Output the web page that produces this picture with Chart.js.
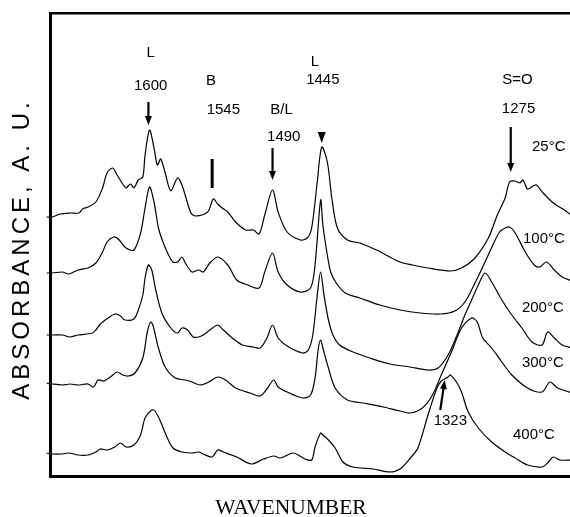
<!DOCTYPE html>
<html>
<head>
    <meta charset="utf-8">
    <script src="https://cdn.jsdelivr.net/npm/chart.js"></script>
    <style>
        body { margin: 0; background: #fff; }
    </style>
</head>
<body>
    <canvas id="myChart" width="570" height="517"></canvas>
    <script>
        // 온도별 IR 스펙트럼 (파수 cm-1, 흡광도 a.u. - 오프셋 포함)
        const temps = ['25°C', '100°C', '200°C', '300°C', '400°C'];

        const wn25 = [1691,1686,1679,1670,1662,1659,1654,1647,1641,1637,1632,1628,1623,1620,1616,1613,1609,1605,1603,1599,1595,1592,1589,1585,1580,1574,1570,1562,1558,1547,1542,1538,1534,1529,1522,1513,1506,1501,1496,1489,1484,1476,1464,1458,1454,1449,1445,1440,1436,1431,1422,1411,1396,1375,1364,1350,1330,1320,1308,1296,1288,1281,1277,1272,1268,1265,1261,1256,1253,1247,1239,1234,1228,1221];
        const ab25 = [2.59,2.59,2.62,2.63,2.63,2.67,2.69,2.74,2.88,3.03,3.08,3.01,2.92,2.88,2.92,2.88,2.96,2.99,3.21,3.46,3.28,3.11,3.17,3.03,2.85,2.98,2.91,2.63,2.60,2.64,2.77,2.72,2.68,2.64,2.54,2.46,2.46,2.42,2.61,2.86,2.64,2.44,2.36,2.38,2.48,2.94,3.29,3.14,2.78,2.48,2.36,2.33,2.26,2.14,2.11,2.08,2.05,2.08,2.18,2.38,2.61,2.78,2.94,2.95,2.93,2.96,2.87,2.90,2.91,2.83,2.74,2.70,2.66,2.60];

        const wn100 = [1691,1686,1677,1671,1663,1654,1647,1641,1637,1631,1627,1620,1613,1607,1603,1599,1595,1591,1587,1582,1578,1574,1570,1567,1561,1555,1551,1545,1538,1529,1521,1511,1501,1496,1489,1484,1476,1464,1455,1451,1446,1444,1440,1437,1432,1424,1411,1393,1375,1357,1339,1326,1317,1308,1299,1292,1286,1281,1277,1272,1263,1255,1250,1244,1237,1230,1221];
        const ab100 = [2.03,2.03,2.04,2.02,2.06,2.08,2.13,2.24,2.34,2.39,2.37,2.28,2.26,2.43,2.68,2.89,2.74,2.48,2.34,2.21,2.14,2.14,2.19,2.13,2.04,2.06,2.04,2.13,2.19,2.11,1.96,1.91,1.88,2.04,2.23,2.04,1.91,1.84,1.88,2.11,2.76,2.51,2.21,2.04,1.93,1.83,1.78,1.71,1.66,1.63,1.62,1.65,1.74,1.93,2.14,2.31,2.44,2.48,2.49,2.43,2.24,2.11,2.09,2.14,2.06,1.99,1.95];

        const wn200 = [1691,1686,1677,1670,1663,1650,1647,1643,1636,1630,1625,1621,1613,1609,1605,1603,1600,1597,1594,1588,1580,1574,1570,1565,1560,1555,1551,1545,1538,1533,1525,1516,1506,1500,1494,1489,1484,1476,1462,1457,1453,1449,1446,1443,1439,1435,1429,1417,1402,1384,1366,1350,1341,1332,1324,1317,1311,1305,1299,1293,1284,1275,1266,1257,1248,1243,1237,1230,1221];
        const ab200 = [1.41,1.41,1.41,1.39,1.41,1.43,1.46,1.52,1.58,1.62,1.60,1.56,1.57,1.66,1.81,1.98,2.11,2.06,1.89,1.63,1.48,1.43,1.48,1.46,1.39,1.39,1.41,1.46,1.51,1.46,1.38,1.31,1.29,1.28,1.38,1.51,1.38,1.30,1.23,1.26,1.41,1.81,2.04,1.81,1.56,1.41,1.31,1.24,1.18,1.12,1.09,1.06,1.08,1.21,1.41,1.61,1.76,1.91,2.03,1.94,1.76,1.61,1.48,1.34,1.31,1.44,1.38,1.31,1.28];

        const wn300 = [1691,1686,1677,1670,1663,1654,1649,1645,1640,1634,1628,1623,1618,1612,1605,1601,1598,1596,1591,1585,1576,1567,1561,1554,1546,1538,1531,1522,1509,1500,1494,1488,1484,1476,1462,1455,1451,1448,1446,1444,1439,1433,1422,1408,1390,1375,1366,1355,1346,1337,1329,1320,1311,1306,1301,1293,1284,1275,1261,1248,1241,1234,1221];
        const ab300 = [0.93,0.92,0.91,0.92,0.91,0.92,0.89,0.96,0.95,0.99,1.04,1.01,1.00,1.03,1.18,1.44,1.54,1.51,1.28,1.09,0.98,0.96,0.94,0.91,0.94,0.99,0.96,0.88,0.83,0.80,0.87,0.96,0.89,0.84,0.78,0.81,0.98,1.28,1.36,1.28,1.08,0.88,0.76,0.73,0.69,0.65,0.63,0.68,0.81,1.04,1.24,1.48,1.58,1.54,1.38,1.28,1.14,1.01,0.88,0.84,0.94,0.88,0.83];

        const wn400 = [1691,1686,1677,1671,1663,1654,1647,1643,1637,1630,1625,1620,1613,1607,1603,1597,1594,1589,1583,1578,1570,1561,1555,1551,1543,1538,1533,1521,1508,1497,1488,1482,1471,1466,1460,1454,1451,1446,1444,1439,1433,1426,1417,1399,1384,1375,1365,1359,1350,1342,1338,1332,1330,1324,1320,1314,1305,1293,1281,1272,1261,1248,1243,1238,1232,1221];
        const ab400 = [0.23,0.22,0.22,0.23,0.21,0.21,0.24,0.27,0.26,0.29,0.33,0.29,0.31,0.41,0.58,0.66,0.65,0.54,0.38,0.28,0.24,0.23,0.24,0.22,0.19,0.26,0.24,0.19,0.12,0.17,0.20,0.18,0.23,0.21,0.17,0.16,0.29,0.43,0.41,0.36,0.28,0.14,0.09,0.07,0.04,0.07,0.19,0.28,0.61,0.88,0.95,0.99,1.01,0.93,0.84,0.64,0.48,0.34,0.24,0.18,0.11,0.09,0.13,0.19,0.16,0.16];

        // 피크 표시 문자
        const noteText = ['L', '1600', 'B', '1545', 'B/L', '1490', 'L', '1445', 'S=O', '1275', '1323'];
        const noteWn   = [1598, 1598, 1544, 1533, 1481, 1479, 1451, 1444, 1270, 1269, 1330];
        const noteAbs  = [4.23, 3.90, 3.95, 3.66, 3.66, 3.39, 4.14, 3.96, 3.96, 3.67, 0.55];

        // 온도 라벨 (왼쪽 정렬)
        const tempWn  = [1257, 1265, 1266, 1266, 1274];
        const tempAbs = [3.29, 2.37, 1.68, 1.13, 0.41];

        // 화살표: [파수 시작, 흡광도 시작, 파수 끝, 흡광도 끝]
        const arrows = [
            [1600, 3.74, 1600, 3.51],
            [1489, 3.28, 1489, 2.96],
            [1276, 3.49, 1276, 3.04],
            [1339, 0.66, 1335, 0.96]
        ];

        const seriesWn = [wn25, wn100, wn200, wn300, wn400];
        const seriesAb = [ab25, ab100, ab200, ab300, ab400];

        function arrow(ctx, x1, y1, x2, y2) {
            const ang = Math.atan2(y2 - y1, x2 - x1);
            const head = 9, half = 3.5;
            const bx = x2 - head * Math.cos(ang), by = y2 - head * Math.sin(ang);
            ctx.beginPath();
            ctx.moveTo(x1, y1);
            ctx.lineTo(bx, by);
            ctx.stroke();
            ctx.beginPath();
            ctx.moveTo(x2, y2);
            ctx.lineTo(bx + half * Math.sin(ang), by - half * Math.cos(ang));
            ctx.lineTo(bx - half * Math.sin(ang), by + half * Math.cos(ang));
            ctx.closePath();
            ctx.fill();
        }

        const notes = {
            id: 'notes',
            afterDraw(chart) {
                const { ctx } = chart;
                const xs = chart.scales.x, ys = chart.scales.y;
                ctx.save();
                ctx.fillStyle = '#000';
                ctx.strokeStyle = '#000';
                ctx.font = "15px 'Liberation Sans', Arial, sans-serif";
                ctx.textBaseline = 'middle';
                ctx.textAlign = 'center';
                noteText.forEach((t, i) => {
                    ctx.fillText(t, xs.getPixelForValue(noteWn[i]), ys.getPixelForValue(noteAbs[i]));
                });
                ctx.textAlign = 'left';
                temps.forEach((t, i) => {
                    ctx.fillText(t, xs.getPixelForValue(tempWn[i]), ys.getPixelForValue(tempAbs[i]));
                });

                ctx.lineWidth = 2.2;
                arrows.forEach(a => {
                    arrow(ctx, xs.getPixelForValue(a[0]), ys.getPixelForValue(a[1]),
                               xs.getPixelForValue(a[2]), ys.getPixelForValue(a[3]));
                });

                // 1545 막대
                ctx.lineWidth = 3;
                ctx.beginPath();
                ctx.moveTo(xs.getPixelForValue(1543), ys.getPixelForValue(3.17));
                ctx.lineTo(xs.getPixelForValue(1543), ys.getPixelForValue(2.88));
                ctx.stroke();

                // 1445 삼각형
                const tx = xs.getPixelForValue(1445);
                const tTop = ys.getPixelForValue(3.44), tTip = ys.getPixelForValue(3.33);
                ctx.beginPath();
                ctx.moveTo(tx - 4, tTop);
                ctx.lineTo(tx + 4, tTop);
                ctx.lineTo(tx, tTip);
                ctx.closePath();
                ctx.fill();

                // 축 제목
                ctx.textAlign = 'center';
                ctx.font = "21.5px 'Liberation Serif', 'Times New Roman', serif";
                ctx.fillText('WAVENUMBER', 291, 508);
                ctx.translate(22, 249);
                ctx.rotate(-Math.PI / 2);
                ctx.font = "24px 'Liberation Sans', Arial, sans-serif";
                ctx.letterSpacing = '4px';
                ctx.fillText('ABSORBANCE, A. U.', 0, 0);
                ctx.restore();
            }
        };

        new Chart(document.getElementById('myChart'), {
            type: 'line',
            data: {
                datasets: temps.map((t, k) => ({
                    label: t,
                    data: seriesWn[k].map((w, i) => ({ x: w, y: seriesAb[k][i] })),
                    borderColor: '#000',
                    borderWidth: 1.2,
                    pointRadius: 0,
                    tension: 0.3,
                    fill: false,
                    clip: { left: 5, top: 0, right: 0, bottom: 0 }
                }))
            },
            options: {
                responsive: false,
                animation: false,
                layout: { padding: { left: 50, top: 13, right: 0, bottom: 41 } },
                plugins: { legend: { display: false }, tooltip: { enabled: false } },
                scales: {
                    x: {
                        type: 'linear', reverse: true, min: 1223, max: 1688,
                        ticks: { display: false },
                        grid: { display: false, drawTicks: false },
                        border: { display: true, color: '#000', width: 3 }
                    },
                    xTop: {
                        type: 'linear', position: 'top', reverse: true, min: 1223, max: 1688,
                        ticks: { display: false },
                        grid: { display: false, drawTicks: false },
                        border: { display: true, color: '#000', width: 2.5 }
                    },
                    y: {
                        min: 0, max: 4.63,
                        ticks: { display: false },
                        grid: { display: false, drawTicks: false },
                        border: { display: true, color: '#000', width: 3 }
                    }
                }
            },
            plugins: [notes]
        });
    </script>
</body>
</html>
